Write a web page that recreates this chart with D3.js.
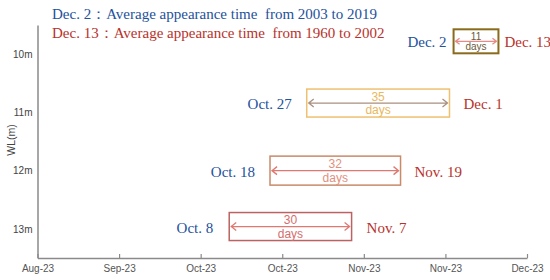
<!DOCTYPE html>
<html lang="en">
<head>
    <meta charset="UTF-8">
    <title>appearance time</title>
    <style>
        body { margin: 0; background: #fff; }
        svg { display: block; }
    </style>
</head>
<body>
    <script src="https://d3js.org/d3.v7.min.js"></script>
    <script>
        const width = 550, height = 280;

        // data
        const legendLines = [
            'Dec. 2：Average appearance time  from 2003 to 2019',
            'Dec. 13：Average appearance time  from 1960 to 2002'
        ];
        const wlTicks = [10, 11, 12, 13];
        const rowLevel = [9.78, 10.84, 12.0, 12.96];       // WL where each box sits
        const startDates = ['2023-12-02', '2023-10-27', '2023-10-18', '2023-10-08'];
        const endDates = ['2023-12-13', '2023-12-01', '2023-11-19', '2023-11-07'];
        const startLabels = ['Dec. 2', 'Oct. 27', 'Oct. 18', 'Oct. 8'];
        const endLabels = ['Dec. 13', 'Dec. 1', 'Nov. 19', 'Nov. 7'];
        const xTickDates = ['2023-08-22', '2023-09-11', '2023-10-01', '2023-10-21',
                            '2023-11-10', '2023-11-30', '2023-12-20'];

        // styles
        const boxColor = ['#8a6a1c', '#eec070', '#c98a6a', '#bb6262'];
        const arrowColor = ['#e88a86', '#a99080', '#e07872', '#e07872'];
        const numColor = ['#6b5a3a', '#e8b860', '#e2907e', '#d46e6e'];
        const boxH = [24, 28, 29, 28];
        const numFont = [10, 12, 12, 12];
        const labelGap = [7, 15, 15, 16];
        const blue = '#24529b', red = '#b8322b';
        const sans = '"Liberation Sans", Arial, sans-serif';
        const serif = '15px "Liberation Serif", "Times New Roman", serif';

        const parse = d3.timeParse('%Y-%m-%d');
        const fmt = d3.timeFormat('%b-%y');

        const svg = d3.select('body').append('svg')
            .attr('width', width).attr('height', height);

        const x = d3.scaleTime()
            .domain([parse('2023-08-22'), parse('2023-12-20')])
            .range([37.5, 527]);
        const y = d3.scaleLinear()
            .domain([9.5, 13.5])
            .range([25, 258]);

        // x axis, ticks pointing up
        const xAxis = svg.append('g')
            .attr('transform', `translate(0,${y(13.5)})`)
            .call(d3.axisBottom(x)
                .tickValues(xTickDates.map(parse))
                .tickFormat(fmt)
                .tickSize(-4).tickSizeOuter(0).tickPadding(7));
        xAxis.select('.domain').attr('stroke', '#8a8a8a').attr('stroke-width', 1.5);
        xAxis.selectAll('.tick line').attr('stroke', '#8a8a8a').attr('stroke-width', 1.2);
        xAxis.selectAll('.tick text')
            .attr('fill', '#555').style('font-family', sans).style('font-size', '10px');

        // y axis
        const yAxis = svg.append('g')
            .attr('transform', `translate(${x.range()[0]},0)`)
            .call(d3.axisLeft(y)
                .tickValues(wlTicks)
                .tickFormat(d => d + 'm')
                .tickSize(0).tickSizeOuter(0).tickPadding(5));
        yAxis.select('.domain').attr('stroke', '#8a8a8a').attr('stroke-width', 1.5);
        yAxis.selectAll('.tick text')
            .attr('fill', '#444').style('font-family', sans).style('font-size', '10px');

        svg.append('text')
            .attr('transform', 'translate(11,140) rotate(-90)')
            .attr('text-anchor', 'middle')
            .attr('dominant-baseline', 'central')
            .attr('fill', '#444')
            .style('font-family', sans).style('font-size', '10.5px')
            .text('WL(m)');

        // legend lines at the top
        svg.selectAll('.legend')
            .data(legendLines).enter()
            .append('text')
            .attr('class', 'legend')
            .attr('x', 52)
            .attr('y', (d, i) => 19 + i * 18.5)
            .attr('fill', (d, i) => i === 0 ? blue : red)
            .style('font', serif)
            .style('white-space', 'pre')
            .text(d => d);

        // rows
        const rows = startDates.map((s, i) => ({
            start: parse(s), end: parse(endDates[i]), level: rowLevel[i],
            startLabel: startLabels[i], endLabel: endLabels[i], i
        }));

        const row = svg.selectAll('.row')
            .data(rows).enter()
            .append('g').attr('class', 'row');

        row.append('rect')
            .attr('x', d => x(d.start))
            .attr('y', d => y(d.level) - boxH[d.i] / 2)
            .attr('width', d => x(d.end) - x(d.start))
            .attr('height', d => boxH[d.i])
            .attr('fill', 'none')
            .attr('stroke', d => boxColor[d.i])
            .attr('stroke-width', d => d.i === 0 ? 2 : 1.5);

        // double-headed arrow
        row.append('path')
            .attr('d', d => {
                const x0 = x(d.start) + 2, x1 = x(d.end) - 2, cy = y(d.level);
                const h = d.i === 0 ? 4 : 5, v = d.i === 0 ? 3 : 4;
                return `M${x0},${cy}H${x1}` +
                    `M${x0 + h},${cy - v}L${x0},${cy}L${x0 + h},${cy + v}` +
                    `M${x1 - h},${cy - v}L${x1},${cy}L${x1 - h},${cy + v}`;
            })
            .attr('fill', 'none')
            .attr('stroke', d => arrowColor[d.i])
            .attr('stroke-width', 1.3);

        row.append('text')
            .attr('x', d => (x(d.start) + x(d.end)) / 2)
            .attr('y', d => y(d.level) - (d.i === 0 ? 5 : 6.5))
            .attr('text-anchor', 'middle')
            .attr('dominant-baseline', 'central')
            .attr('fill', d => numColor[d.i])
            .style('font-family', sans)
            .style('font-size', d => numFont[d.i] + 'px')
            .text(d => d3.timeDay.count(d.start, d.end));

        row.append('text')
            .attr('x', d => (x(d.start) + x(d.end)) / 2)
            .attr('y', d => y(d.level) + (d.i === 0 ? 5 : 7))
            .attr('text-anchor', 'middle')
            .attr('dominant-baseline', 'central')
            .attr('fill', d => numColor[d.i])
            .style('font-family', sans)
            .style('font-size', d => numFont[d.i] + 'px')
            .text('days');

        row.append('text')
            .attr('x', d => x(d.start) - labelGap[d.i])
            .attr('y', d => y(d.level) + 1)
            .attr('text-anchor', 'end')
            .attr('dominant-baseline', 'central')
            .attr('fill', blue)
            .style('font', serif)
            .text(d => d.startLabel);

        row.append('text')
            .attr('x', d => x(d.end) + labelGap[d.i] - 1)
            .attr('y', d => y(d.level) + 1)
            .attr('dominant-baseline', 'central')
            .attr('fill', red)
            .style('font', serif)
            .text(d => d.endLabel);
    </script>
</body>
</html>
